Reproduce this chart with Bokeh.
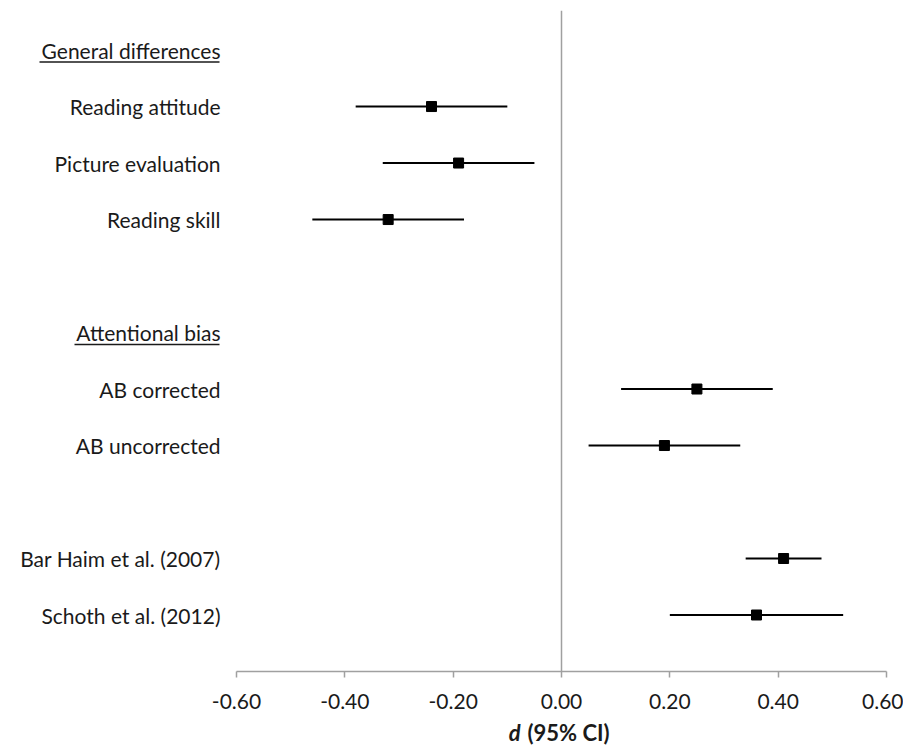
from bokeh.plotting import figure
from bokeh.layouts import column
from bokeh.models import Range1d, FixedTicker, NumeralTickFormatter, Span, ColumnDataSource
from bokeh.core.properties import value
from bokeh.embed import file_html
from bokeh.resources import INLINE

# ---- data ----
headers = ["General differences", "Attentional bias"]
header_rows = [0, 5]
header_widths_px = [180, 145]

studies = ["Reading attitude", "Picture evaluation", "Reading skill",
           "AB corrected", "AB uncorrected",
           "Bar Haim et al. (2007)", "Schoth et al. (2012)"]
study_rows = [1, 2, 3, 6, 7, 9, 10]
d_values = [-0.24, -0.19, -0.32, 0.25, 0.19, 0.41, 0.36]
ci_lower = [-0.38, -0.33, -0.46, 0.11, 0.05, 0.34, 0.20]
ci_upper = [-0.10, -0.05, -0.18, 0.39, 0.33, 0.48, 0.52]

x_ticks = [-0.6, -0.4, -0.2, 0.0, 0.2, 0.4, 0.6]
x_title_symbol = "d"
x_title_rest = "(95% CI)"

# ---- layout ----
FONT = "Lato"
TXT = "#1a1a1a"
px_per_unit = 650 / 1.2
x_start = -0.6 - 228 / px_per_unit
x_end = 0.6 + 17 / px_per_unit

p = figure(width=903, height=715, output_backend="svg", toolbar_location=None,
           x_range=Range1d(x_start, x_end), y_range=Range1d(11, -0.7),
           y_axis_location=None, min_border_left=8, min_border_right=0,
           min_border_top=10, min_border_bottom=44)
p.outline_line_color = None
p.grid.visible = False
p.background_fill_color = "white"
p.border_fill_color = "white"

# x axis
ax = p.xaxis[0]
ax.bounds = (-0.6, 0.6)
ax.ticker = FixedTicker(ticks=x_ticks)
ax.formatter = NumeralTickFormatter(format="0.00")
ax.axis_line_color = "#A0A0A0"
ax.axis_line_width = 1.5
ax.major_tick_line_color = "#A0A0A0"
ax.major_tick_line_width = 1.5
ax.major_tick_out = 6
ax.major_tick_in = 0
ax.minor_tick_line_color = None
ax.major_label_text_font = FONT
ax.major_label_text_font_size = "21px"
ax.major_label_text_color = TXT
ax.major_label_standoff = 16

# zero line
p.add_layout(Span(location=0, dimension="height", line_color="#A0A0A0", line_width=1.5))

# study labels
src_lab = ColumnDataSource(dict(x=[-0.6] * len(studies), y=study_rows, t=studies))
p.text(x="x", y="y", text="t", source=src_lab, x_offset=-16,
       text_align="right", text_baseline="middle",
       text_font=value(FONT), text_font_size="21px", text_color=TXT)

# headers with underline
src_h = ColumnDataSource(dict(x=[-0.6] * len(headers), y=header_rows, t=headers))
p.text(x="x", y="y", text="t", source=src_h, x_offset=-16,
       text_align="right", text_baseline="middle",
       text_font=value(FONT), text_font_size="21px", text_color=TXT)
ul_x1 = [-0.6 - 17 / px_per_unit] * len(headers)
ul_x0 = [x1 - w / px_per_unit for x1, w in zip(ul_x1, header_widths_px)]
ul_y = [r + 0.21 for r in header_rows]
p.segment(x0=ul_x0, x1=ul_x1, y0=ul_y, y1=ul_y, line_color=TXT, line_width=1.5)

# CIs and points
src = ColumnDataSource(dict(y=study_rows, d=d_values, lo=ci_lower, hi=ci_upper))
p.segment(x0="lo", x1="hi", y0="y", y1="y", source=src, line_color="black", line_width=2)
p.scatter(x="d", y="y", source=src, marker="square", size=10,
          fill_color="black", line_color="black")

# axis title strip: "d (95% CI)" with italic d
p2 = figure(width=903, height=34, output_backend="svg", toolbar_location=None,
            x_range=p.x_range, y_range=Range1d(0, 1),
            x_axis_location=None, y_axis_location=None,
            min_border_left=8, min_border_right=0, min_border_top=0, min_border_bottom=0)
p2.outline_line_color = None
p2.grid.visible = False
p2.text(x=[0], y=[0.5], text=[x_title_symbol], x_offset=-41,
        text_align="right", text_baseline="middle",
        text_font=value(FONT), text_font_size="22px",
        text_font_style="bold italic", text_color=TXT)
p2.text(x=[0], y=[0.5], text=[x_title_rest], x_offset=-34,
        text_align="left", text_baseline="middle",
        text_font=value(FONT), text_font_size="22px",
        text_font_style="bold", text_color=TXT)

layout = column(p, p2, spacing=0)
open("out.html", "w").write(file_html(layout, INLINE))
